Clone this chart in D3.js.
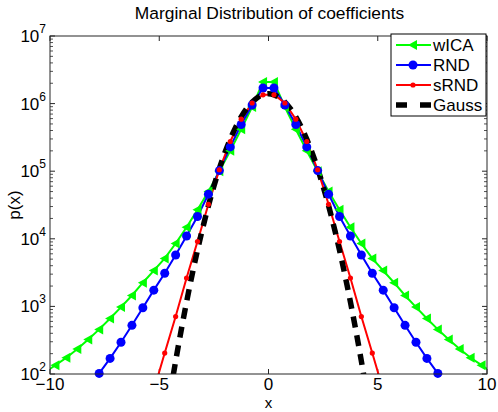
<!DOCTYPE html>
<html><head><meta charset="utf-8">
<script src="https://cdn.jsdelivr.net/npm/d3@7"></script>
<style>
body{margin:0;background:#fff;}
text{font-family:"Liberation Sans",Arial,Helvetica,sans-serif;fill:#000;}
</style></head>
<body>
<svg id="chart" width="498" height="412"></svg>
<script>
// ---- data ----
const title = "Marginal Distribution of coefficients";
const xLabel = "x";
const yLabel = "p(x)";
const xTicks = [-10, -5, 0, 5, 10];
const yTickExps = [2, 3, 4, 5, 6, 7];

const xWICA = [-10.25,-9.75,-9.25,-8.75,-8.25,-7.75,-7.25,-6.75,-6.25,-5.75,-5.25,-4.75,-4.25,-3.75,-3.25,-2.75,-2.25,-1.75,-1.25,-0.75,-0.25,
               0.25,0.75,1.25,1.75,2.25,2.75,3.25,3.75,4.25,4.75,5.25,5.75,6.25,6.75,7.25,7.75,8.25,8.75,9.25,9.75,10.25];
const pWICA = [105,135,174,234,324,457,661,977,1450,2240,3390,5130,8510,14800,26900,50100,100000,200000,417000,891000,2090000,
               2090000,891000,417000,200000,100000,50100,26900,14800,8510,5130,3390,2240,1450,977,661,457,324,234,174,135,105];

const xRND = [-7.75,-7.25,-6.75,-6.25,-5.75,-5.25,-4.75,-4.25,-3.75,-3.25,-2.75,-2.25,-1.75,-1.25,-0.75,-0.25,
              0.25,0.75,1.25,1.75,2.25,2.75,3.25,3.75,4.25,4.75,5.25,5.75,6.25,6.75,7.25,7.75];
const pRND = [102,170,295,525,955,1740,3090,5750,11000,21400,45700,102000,229000,490000,955000,1700000,
              1700000,955000,490000,229000,102000,45700,21400,11000,5750,3090,1740,955,525,295,170,102];

const xSRND = [-5.25,-4.75,-4.25,-3.75,-3.25,-2.75,-2.25,-1.75,-1.25,-0.75,-0.25,
               0.25,0.75,1.25,1.75,2.25,2.75,3.25,3.75,4.25,4.75,5.25];
const pSRND = [57.5,204,708,2630,9120,32400,105000,275000,589000,1020000,1350000,
               1350000,1020000,589000,275000,105000,32400,9120,2630,708,204,57.5];

const xGauss = [-4.5,-4.25,-4,-3.75,-3.5,-3.25,-3,-2.75,-2.5,-2.25,-2,-1.75,-1.5,-1.25,-1,-0.75,-0.5,-0.25,0,
                0.25,0.5,0.75,1,1.25,1.5,1.75,2,2.25,2.5,2.75,3,3.25,3.5,3.75,4,4.25,4.5];
const pGauss = [51,155,438,1160,2900,6790,14900,30800,59700,109000,186000,298000,449000,635000,843000,1050000,1230000,1350000,1400000,
                1350000,1230000,1050000,843000,635000,449000,298000,186000,109000,59700,30800,14900,6790,2900,1160,438,155,51];

const seriesNames = ["wICA", "RND", "sRND", "Gauss"];
const seriesColors = ["#00ff00", "#0000ff", "#ff0000", "#000000"];

// ---- layout ----
const svg = d3.select("#chart");
const L = 50, R = 487, T = 36, B = 374;
const x = d3.scaleLinear().domain([-10, 10]).range([L, R]);
const y = d3.scaleLog().domain([1e2, 1e7]).range([B, T]);

svg.append("defs").append("clipPath").attr("id", "clip")
  .append("rect").attr("x", L).attr("y", T).attr("width", R - L).attr("height", B - T);

svg.append("text").attr("x", (L + R) / 2 + 1).attr("y", 19).attr("text-anchor", "middle")
  .attr("font-size", 17.4).text(title);

const axisColor = "#262626";
const g = svg.append("g");
const yMinor = [];
for (let e = 2; e < 7; e++) for (let k = 2; k <= 9; k++) yMinor.push(k * Math.pow(10, e));
g.selectAll(".ymin").data(yMinor).join("line")
  .attr("x1", L).attr("x2", L + 3).attr("y1", d => y(d)).attr("y2", d => y(d))
  .attr("stroke", axisColor).attr("stroke-width", 0.8);
g.selectAll(".ymin2").data(yMinor).join("line")
  .attr("x1", R).attr("x2", R - 3).attr("y1", d => y(d)).attr("y2", d => y(d))
  .attr("stroke", axisColor).attr("stroke-width", 0.8);
const yMajor = yTickExps.map(e => Math.pow(10, e));
g.selectAll(".ymaj").data(yMajor).join("line")
  .attr("x1", L).attr("x2", L + 5).attr("y1", d => y(d)).attr("y2", d => y(d))
  .attr("stroke", axisColor).attr("stroke-width", 1);
g.selectAll(".ymaj2").data(yMajor).join("line")
  .attr("x1", R).attr("x2", R - 5).attr("y1", d => y(d)).attr("y2", d => y(d))
  .attr("stroke", axisColor).attr("stroke-width", 1);
g.selectAll(".xt").data(xTicks).join("line")
  .attr("x1", d => x(d)).attr("x2", d => x(d)).attr("y1", B).attr("y2", B - 5)
  .attr("stroke", axisColor).attr("stroke-width", 1);
g.selectAll(".xt2").data(xTicks).join("line")
  .attr("x1", d => x(d)).attr("x2", d => x(d)).attr("y1", T).attr("y2", T + 5)
  .attr("stroke", axisColor).attr("stroke-width", 1);

const yl = svg.selectAll(".ylab").data(yTickExps).join("text")
  .attr("x", L - 4).attr("y", d => y(Math.pow(10, d)) + 6)
  .attr("text-anchor", "end").attr("font-size", 17);
yl.append("tspan").text("10");
yl.append("tspan").attr("dy", -9).attr("font-size", 12).text(d => d);

svg.selectAll(".xlab").data(xTicks).join("text")
  .attr("x", d => x(d)).attr("y", 390).attr("text-anchor", "middle")
  .attr("font-size", 17).text(d => d < 0 ? "\u2212" + Math.abs(d) : d);

svg.append("text").attr("x", (L + R) / 2).attr("y", 407.5).attr("text-anchor", "middle")
  .attr("font-size", 15).text(xLabel);
svg.append("text").attr("transform", `translate(20,${(T + B) / 2}) rotate(-90)`)
  .attr("text-anchor", "middle").attr("font-size", 17).text(yLabel);

// ---- series ----
const line = d3.line().x(d => x(d[0])).y(d => y(d[1]));
const plot = svg.append("g");
const clipped = plot.append("g").attr("clip-path", "url(#clip)");

const zip = (a, b) => a.map((v, i) => [v, b[i]]);
const inside = d => d[0] >= -10 && d[0] <= 10 && d[1] >= 1e2 && d[1] <= 1e7;

const dWICA = zip(xWICA, pWICA), dRND = zip(xRND, pRND), dSRND = zip(xSRND, pSRND), dG = zip(xGauss, pGauss);

clipped.append("path").datum(dWICA).attr("d", line).attr("fill", "none")
  .attr("stroke", seriesColors[0]).attr("stroke-width", 2);
const tri = "M-5,0L4,-5L4,5Z";
plot.selectAll(".mw").data(dWICA.filter(inside)).join("path")
  .attr("d", tri).attr("transform", d => `translate(${x(d[0])},${y(d[1])})`)
  .attr("fill", seriesColors[0]);

clipped.append("path").datum(dRND).attr("d", line).attr("fill", "none")
  .attr("stroke", seriesColors[1]).attr("stroke-width", 2);
plot.selectAll(".mr").data(dRND.filter(inside)).join("circle")
  .attr("cx", d => x(d[0])).attr("cy", d => y(d[1])).attr("r", 4.5)
  .attr("fill", seriesColors[1]);

clipped.append("path").datum(dSRND).attr("d", line).attr("fill", "none")
  .attr("stroke", seriesColors[2]).attr("stroke-width", 2);
plot.selectAll(".ms").data(dSRND.filter(inside)).join("circle")
  .attr("cx", d => x(d[0])).attr("cy", d => y(d[1])).attr("r", 2.6)
  .attr("fill", seriesColors[2]);

clipped.append("path").datum(dG).attr("d", d3.line().curve(d3.curveMonotoneX).x(d => x(d[0])).y(d => y(d[1])))
  .attr("fill", "none").attr("stroke", seriesColors[3]).attr("stroke-width", 5.5)
  .attr("stroke-dasharray", "11,8");

svg.append("rect").attr("x", L).attr("y", T).attr("width", R - L).attr("height", B - T)
  .attr("fill", "none").attr("stroke", axisColor).attr("stroke-width", 1);

// ---- legend ----
const lg = svg.append("g");
const LX = 391, LY = 34, LW = 95, LH = 82;
lg.append("rect").attr("x", LX).attr("y", LY).attr("width", LW).attr("height", LH)
  .attr("fill", "#fff").attr("stroke", "#000").attr("stroke-width", 1);
seriesNames.forEach((name, i) => {
  const cy = LY + 11 + i * 20;
  const row = lg.append("g");
  if (i === 3) {
    row.append("line").attr("x1", 396).attr("x2", 431).attr("y1", cy).attr("y2", cy)
      .attr("stroke", "#000").attr("stroke-width", 5.5).attr("stroke-dasharray", "11,13");
  } else {
    row.append("line").attr("x1", 396).attr("x2", 431).attr("y1", cy).attr("y2", cy)
      .attr("stroke", seriesColors[i]).attr("stroke-width", 2);
    if (i === 0) row.append("path").attr("d", tri).attr("transform", `translate(413,${cy})`).attr("fill", seriesColors[0]);
    if (i === 1) row.append("circle").attr("cx", 413).attr("cy", cy).attr("r", 4.5).attr("fill", seriesColors[1]);
    if (i === 2) row.append("circle").attr("cx", 413).attr("cy", cy).attr("r", 2.6).attr("fill", seriesColors[2]);
  }
  row.append("text").attr("x", 433).attr("y", cy + 6).attr("font-size", 17).text(name);
});
</script>
</body></html>
